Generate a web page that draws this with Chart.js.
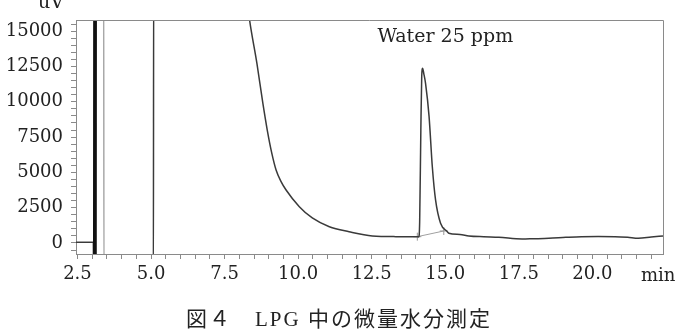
<!DOCTYPE html>
<html>
<head>
<meta charset="utf-8">
<script src="https://cdn.jsdelivr.net/npm/chart.js@4/dist/chart.umd.min.js"></script>
<style>
html,body{margin:0;padding:0;background:#fff;}
canvas{display:block;}
</style>
</head>
<body>
<canvas id="c" width="678" height="334"></canvas>
<script>
// Chromatogram trace (time in min, signal in uV)
const times = [2.45, 3.07, 3.08, 3.09, 3.10, 3.11, 3.39, 3.40, 5.08, 5.09, 8.10, 8.35, 8.60, 8.80, 8.95, 9.10, 9.25, 9.42, 9.59, 10.04, 10.48, 11.06, 11.73, 12.52, 13.32, 14.05, 14.10, 14.13, 14.17, 14.20, 14.23, 14.27, 14.33, 14.45, 14.56, 14.67, 14.84, 15.07, 15.12, 15.50, 15.80, 16.30, 16.82, 17.61, 18.00, 18.52, 19.10, 19.63, 20.20, 20.77, 21.20, 21.56, 22.00, 22.40];
const signal = [50, 50, -3000, 20000, -3000, 20000, 20000, -3000, -3000, 20000, 20000, 15780, 12700, 9900, 8000, 6400, 5170, 4350, 3750, 2570, 1770, 1150, 800, 500, 450, 440, 430, 1500, 8000, 11800, 12370, 12000, 11300, 8950, 5400, 3050, 1400, 800, 690, 600, 500, 440, 400, 280, 300, 330, 400, 450, 460, 450, 400, 330, 420, 500];
// Integration baseline under the water peak
const baseTimes = [14.05, 14.95];
const baseValues = [446, 850];
// Axis ticks
const xMinorStep = 0.5;
const xLabelEvery = 2.5;
const yMinorStep = 500;
const yLabelEvery = 2500;
const yUnit = 'uV';
const xUnit = 'min';
// Peak annotation
const peakLabel = 'Water 25 ppm';
const peakLabelX = 15.0;
const peakLabelY = 14200;
const caption = '図４　LPG 中の微量水分測定';

const SERIF = '"DejaVu Serif", "Liberation Serif", serif';

const traceData = times.map((t, i) => ({x: t, y: signal[i]}));
const baseData = baseTimes.map((t, i) => ({x: t, y: baseValues[i]}));

function isMultiple(v, step) {
  const r = v / step;
  return Math.abs(r - Math.round(r)) < 1e-6;
}

const decor = {
  id: 'decor',
  afterDraw(chart) {
    const {ctx, chartArea: a, scales} = chart;
    ctx.save();
    ctx.strokeStyle = '#8a8a8a';
    ctx.lineWidth = 1;
    ctx.beginPath();
    ctx.moveTo(a.left, a.top + 0.5);
    ctx.lineTo(a.right + 0.5, a.top + 0.5);
    ctx.lineTo(a.right + 0.5, a.bottom);
    ctx.stroke();

    ctx.fillStyle = '#222';
    ctx.font = '19px ' + SERIF;
    ctx.textAlign = 'center';
    ctx.textBaseline = 'alphabetic';
    ctx.fillText(peakLabel, scales.x.getPixelForValue(peakLabelX), scales.y.getPixelForValue(peakLabelY));
    ctx.fillText(yUnit, 51, 8);
    ctx.font = '18px ' + SERIF;
    ctx.textAlign = 'left';
    ctx.fillText(xUnit, a.right - 22, 281);

    ctx.font = '21px "Liberation Serif", "Noto Sans CJK JP", serif';
    ctx.textAlign = 'center';
    if ('letterSpacing' in ctx) ctx.letterSpacing = '2px';
    ctx.fillText(caption, 339, 326);
    ctx.restore();
  }
};

function stepTicks(step) {
  return s => {
    const out = [];
    const start = Math.ceil(s.min / step);
    const end = Math.floor(s.max / step);
    for (let k = start; k <= end; k++) out.push({value: Math.round(k * step * 1e6) / 1e6});
    s.ticks = out;
  };
}

new Chart(document.getElementById('c'), {
  type: 'line',
  data: {
    datasets: [
      {
        data: traceData,
        borderColor: '#3a3a3a',
        borderWidth: 1.5,
        pointRadius: 0,
        cubicInterpolationMode: 'monotone',
        clip: 0,
        segment: {
          borderWidth: ctx => (ctx.p0.parsed.x >= 3.07 && ctx.p1.parsed.x <= 3.12) ? 3.2 : undefined,
          borderColor: ctx => {
            const x0 = ctx.p0.parsed.x;
            if (x0 >= 3.07 && ctx.p1.parsed.x <= 3.12) return '#111';
            if (x0 >= 3.38 && x0 <= 3.40) return '#a8a8a8';
            return undefined;
          }
        },
        order: 1
      },
      {
        data: baseData,
        borderColor: '#a0a0a0',
        borderWidth: 1,
        pointStyle: 'cross',
        pointRadius: 4,
        pointBorderColor: '#999',
        pointBorderWidth: 1,
        tension: 0,
        clip: 0,
        order: 2
      }
    ]
  },
  options: {
    responsive: false,
    animation: false,
    devicePixelRatio: 1,
    layout: {padding: {left: 0, right: 15, top: 20, bottom: 0}},
    plugins: {legend: {display: false}, tooltip: {enabled: false}},
    scales: {
      x: {
        type: 'linear',
        min: 2.45,
        max: 22.4,
        afterBuildTicks: stepTicks(xMinorStep),
        afterFit: s => { s.height = 80; },
        border: {display: true, color: '#8a8a8a', width: 1},
        grid: {drawOnChartArea: false, drawTicks: true, tickLength: 5, color: '#8a8a8a'},
        ticks: {
          autoSkip: false,
          maxRotation: 0,
          padding: 5,
          color: '#222',
          font: {family: SERIF, size: 18},
          callback: v => isMultiple(v, xLabelEvery) ? v.toFixed(1) : ''
        }
      },
      y: {
        type: 'linear',
        min: -780,
        max: 15790,
        afterBuildTicks: stepTicks(yMinorStep),
        afterFit: s => { s.width = 76; },
        border: {display: true, color: '#8a8a8a', width: 1},
        grid: {drawOnChartArea: false, drawTicks: true, tickLength: 5, color: '#8a8a8a'},
        ticks: {
          autoSkip: false,
          padding: 8,
          color: '#222',
          font: {family: SERIF, size: 18},
          callback: v => isMultiple(v, yLabelEvery) ? String(v) : ''
        }
      }
    }
  },
  plugins: [decor]
});
</script>
</body>
</html>
